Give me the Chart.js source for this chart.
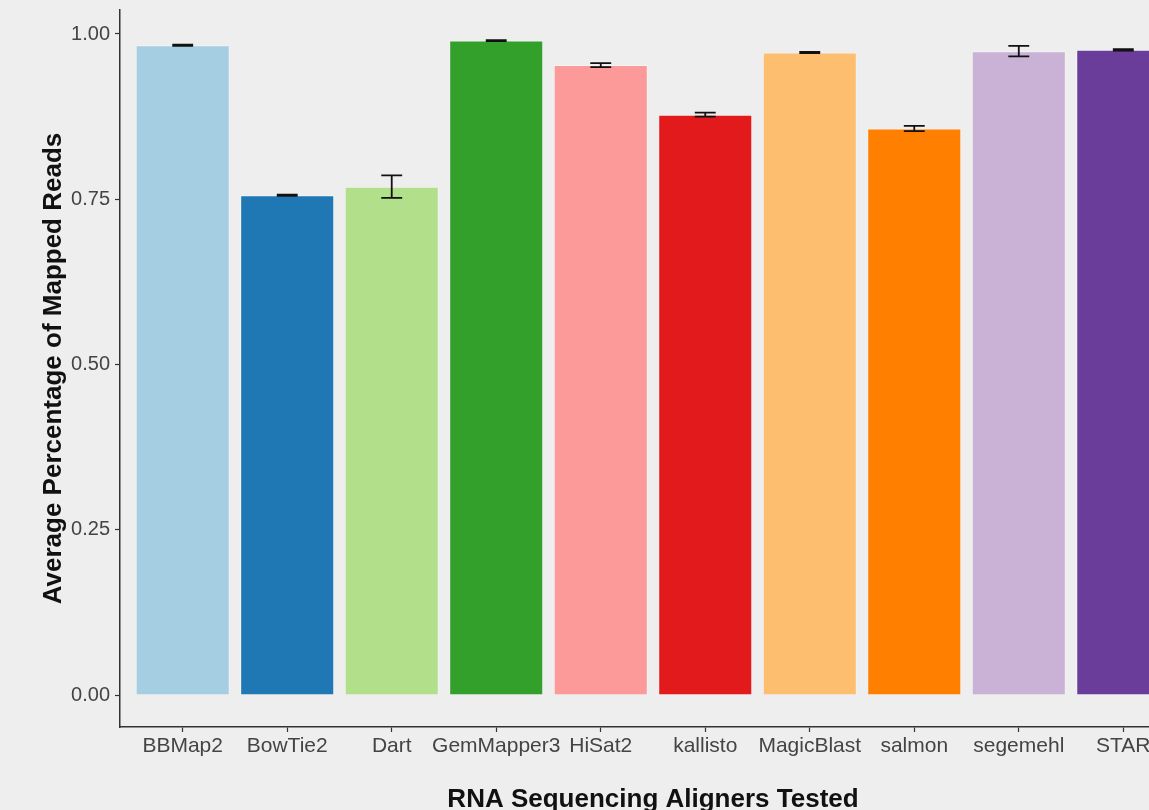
<!DOCTYPE html>
<html>
<head>
<meta charset="utf-8">
<script src="https://cdn.jsdelivr.net/npm/chart.js@4/dist/chart.umd.min.js"></script>
<style>
  html, body { margin: 0; padding: 0; background: #eeeeee; overflow: hidden; }
  #wrap { width: 1149px; height: 810px; overflow: hidden; position: relative; background: #eeeeee; }
  canvas { display: block; }
</style>
</head>
<body>
<div id="wrap"><canvas id="c" width="1200" height="830" style="width:1200px;height:830px"></canvas></div>
<script>
const aligners = ["BBMap2","BowTie2","Dart","GemMapper3","HiSat2","kallisto","MagicBlast","salmon","segemehl","STAR"];
const meanMapped = [0.983, 0.756, 0.769, 0.990, 0.953, 0.878, 0.972, 0.857, 0.974, 0.976];
const errMapped  = [0.001, 0.0008, 0.017, 0.0008, 0.003, 0.003, 0.001, 0.004, 0.008, 0.001];
const barColors  = ["#A6CEE3","#1F78B4","#B2DF8A","#33A02C","#FB9A99","#E31A1C","#FDBF6F","#FF7F00","#CAB2D6","#6A3D9A"];
const yTickValues = [0, 0.25, 0.5, 0.75, 1.0];

const FONT = "'Liberation Sans', Arial, Helvetica, sans-serif";
const W = 1200, H = 830;

const errorBars = {
  id: 'errorBars',
  afterDatasetsDraw(chart) {
    const ctx = chart.ctx, xs = chart.scales.x, ys = chart.scales.y;
    ctx.save();
    ctx.strokeStyle = '#111111';
    ctx.lineWidth = 1.8;
    meanMapped.forEach((m, i) => {
      const cx = xs.getPixelForValue(i);
      const hw = xs.getPixelForValue(i + 0.1) - cx;
      const yHi = ys.getPixelForValue(m + errMapped[i]);
      const yLo = ys.getPixelForValue(m - errMapped[i]);
      ctx.beginPath();
      ctx.moveTo(cx, yHi); ctx.lineTo(cx, yLo);
      ctx.moveTo(cx - hw, yHi); ctx.lineTo(cx + hw, yHi);
      ctx.moveTo(cx - hw, yLo); ctx.lineTo(cx + hw, yLo);
      ctx.stroke();
    });
    ctx.restore();
  }
};

new Chart(document.getElementById('c'), {
  type: 'bar',
  data: {
    datasets: [{
      data: meanMapped.map((v, i) => ({ x: i, y: v })),
      backgroundColor: barColors,
      borderColor: 'rgba(255,255,255,0.35)',
      borderWidth: 1,
      categoryPercentage: 1.0,
      barPercentage: 0.9
    }]
  },
  plugins: [errorBars],
  options: {
    responsive: false,
    animation: false,
    layout: { padding: { top: 10, left: 0, right: W - 1186, bottom: 0 } },
    plugins: { legend: { display: false }, tooltip: { enabled: false } },
    scales: {
      x: {
        type: 'linear',
        offset: false,
        min: -0.6,
        max: 9.6,
        afterBuildTicks(scale) {
          scale.ticks = aligners.map((_, i) => ({ value: i }));
        },
        afterFit(scale) {
          scale.height = H - 727;
          scale.paddingLeft = 0; scale.paddingRight = 0;
        },
        ticks: {
          autoSkip: false,
          maxRotation: 0,
          padding: 2,
          color: '#444444',
          font: { family: FONT, size: 21 },
          callback: (v) => aligners[v] !== undefined ? aligners[v] : ''
        },
        grid: { display: true, offset: false, drawOnChartArea: false, drawTicks: true, tickLength: 5, tickColor: '#333333', tickWidth: 1.2 },
        border: { display: true, color: '#333333', width: 1.5 },
        title: {
          display: true,
          text: 'RNA Sequencing Aligners Tested',
          color: '#111111',
          font: { family: FONT, size: 26, weight: 'bold' },
          padding: { top: 0, bottom: 15 }
        }
      },
      y: {
        min: -0.0484,
        max: 1.0363,
        afterBuildTicks(scale) {
          scale.ticks = yTickValues.map(v => ({ value: v }));
        },
        afterFit(scale) {
          scale.width = 120;
          scale.paddingTop = 0; scale.paddingBottom = 0;
        },
        ticks: {
          padding: 5,
          color: '#444444',
          font: { family: FONT, size: 20 },
          callback: (v) => Number(v).toFixed(2)
        },
        grid: { display: true, drawOnChartArea: false, drawTicks: true, tickLength: 5, tickColor: '#333333', tickWidth: 1.2 },
        border: { display: true, color: '#333333', width: 1.5 },
        title: {
          display: true,
          text: 'Average Percentage of Mapped Reads',
          color: '#111111',
          font: { family: FONT, size: 26, weight: 'bold' },
          padding: { top: 38, bottom: 0 }
        }
      }
    }
  }
});
</script>
</body>
</html>
